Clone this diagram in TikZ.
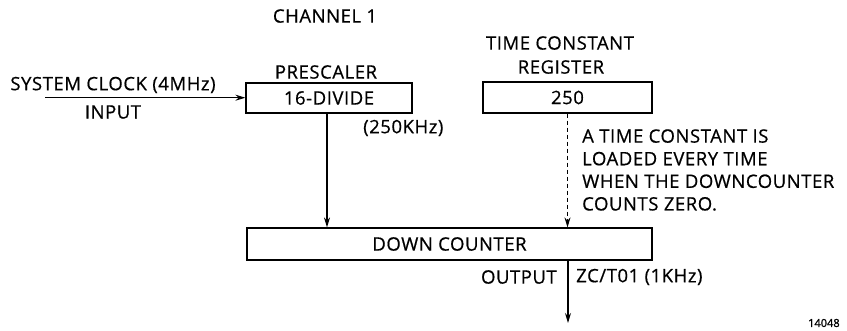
\documentclass[tikz,border=0pt]{standalone}
\usepackage{fontspec}
\setmainfont{Open Sans}[LetterSpace=3, FakeBold=0.6]
\newfontfamily\numfont{Open Sans}[FakeBold=1.5]
\usetikzlibrary{arrows.meta}
\begin{document}
\begin{tikzpicture}[x=1pt,y=-1pt,
  lbl/.style={font=\fontsize{18.5}{22}\selectfont, inner sep=0pt},
  box/.style={draw, line width=1.2pt, inner sep=0pt, font=\fontsize{18.5}{22}\selectfont},
  arr/.style={line width=1.1pt, -{Stealth[length=10pt,width=6pt]}},
]
\useasboundingbox (0,0) rectangle (847,330);
\node[lbl] (ch) at (325,16) {CHANNEL 1};
\node[lbl] (pre) at (326,72) {PRESCALER};
\node[box, minimum width=166pt, minimum height=30pt] (div) at (329,98) {16-DIVIDE};
\node[lbl] (sys) at (113,85) {SYSTEM CLOCK (4MHz)};
\node[lbl] (inp) at (113,112) {INPUT};
\node[lbl, anchor=west] (khz) at (363,128) {(250KHz)};
\node[lbl] (tc) at (560,43) {TIME CONSTANT};
\node[lbl] (reg) at (561,67) {REGISTER};
\node[box, minimum width=169pt, minimum height=31pt] (tcr) at (567.5,97.5) {250};
\node[lbl, anchor=west, align=left, font=\fontsize{18.5}{22.6}\selectfont] (note) at (582,170) {A TIME CONSTANT IS\\LOADED EVERY TIME\\WHEN THE DOWNCOUNTER\\COUNTS ZERO.};
\node[box, minimum width=405pt, minimum height=32pt] (dc) at (449.5,244) {DOWN COUNTER};
\node[lbl, anchor=east] (outl) at (557,277) {OUTPUT};
\node[lbl, anchor=west] (zc) at (576,277) {ZC/T01 (1KHz)};
\node[inner sep=0pt, anchor=west, font=\numfont\fontsize{11}{12}\selectfont] (num) at (808,323) {14048};
\coordinate (in) at (45,97.7);
\coordinate (sx) at (327,0);
\coordinate (out) at (568,323);
\draw[arr] (in) -- (in -| div.west);
\draw[arr] (div.south -| sx) -- (dc.north -| sx);
\draw[arr, dash pattern=on 4pt off 3pt] (tcr.south) -- (dc.north -| tcr.south);
\draw[arr] (dc.south -| out) -- (out);
\end{tikzpicture}
\end{document}
